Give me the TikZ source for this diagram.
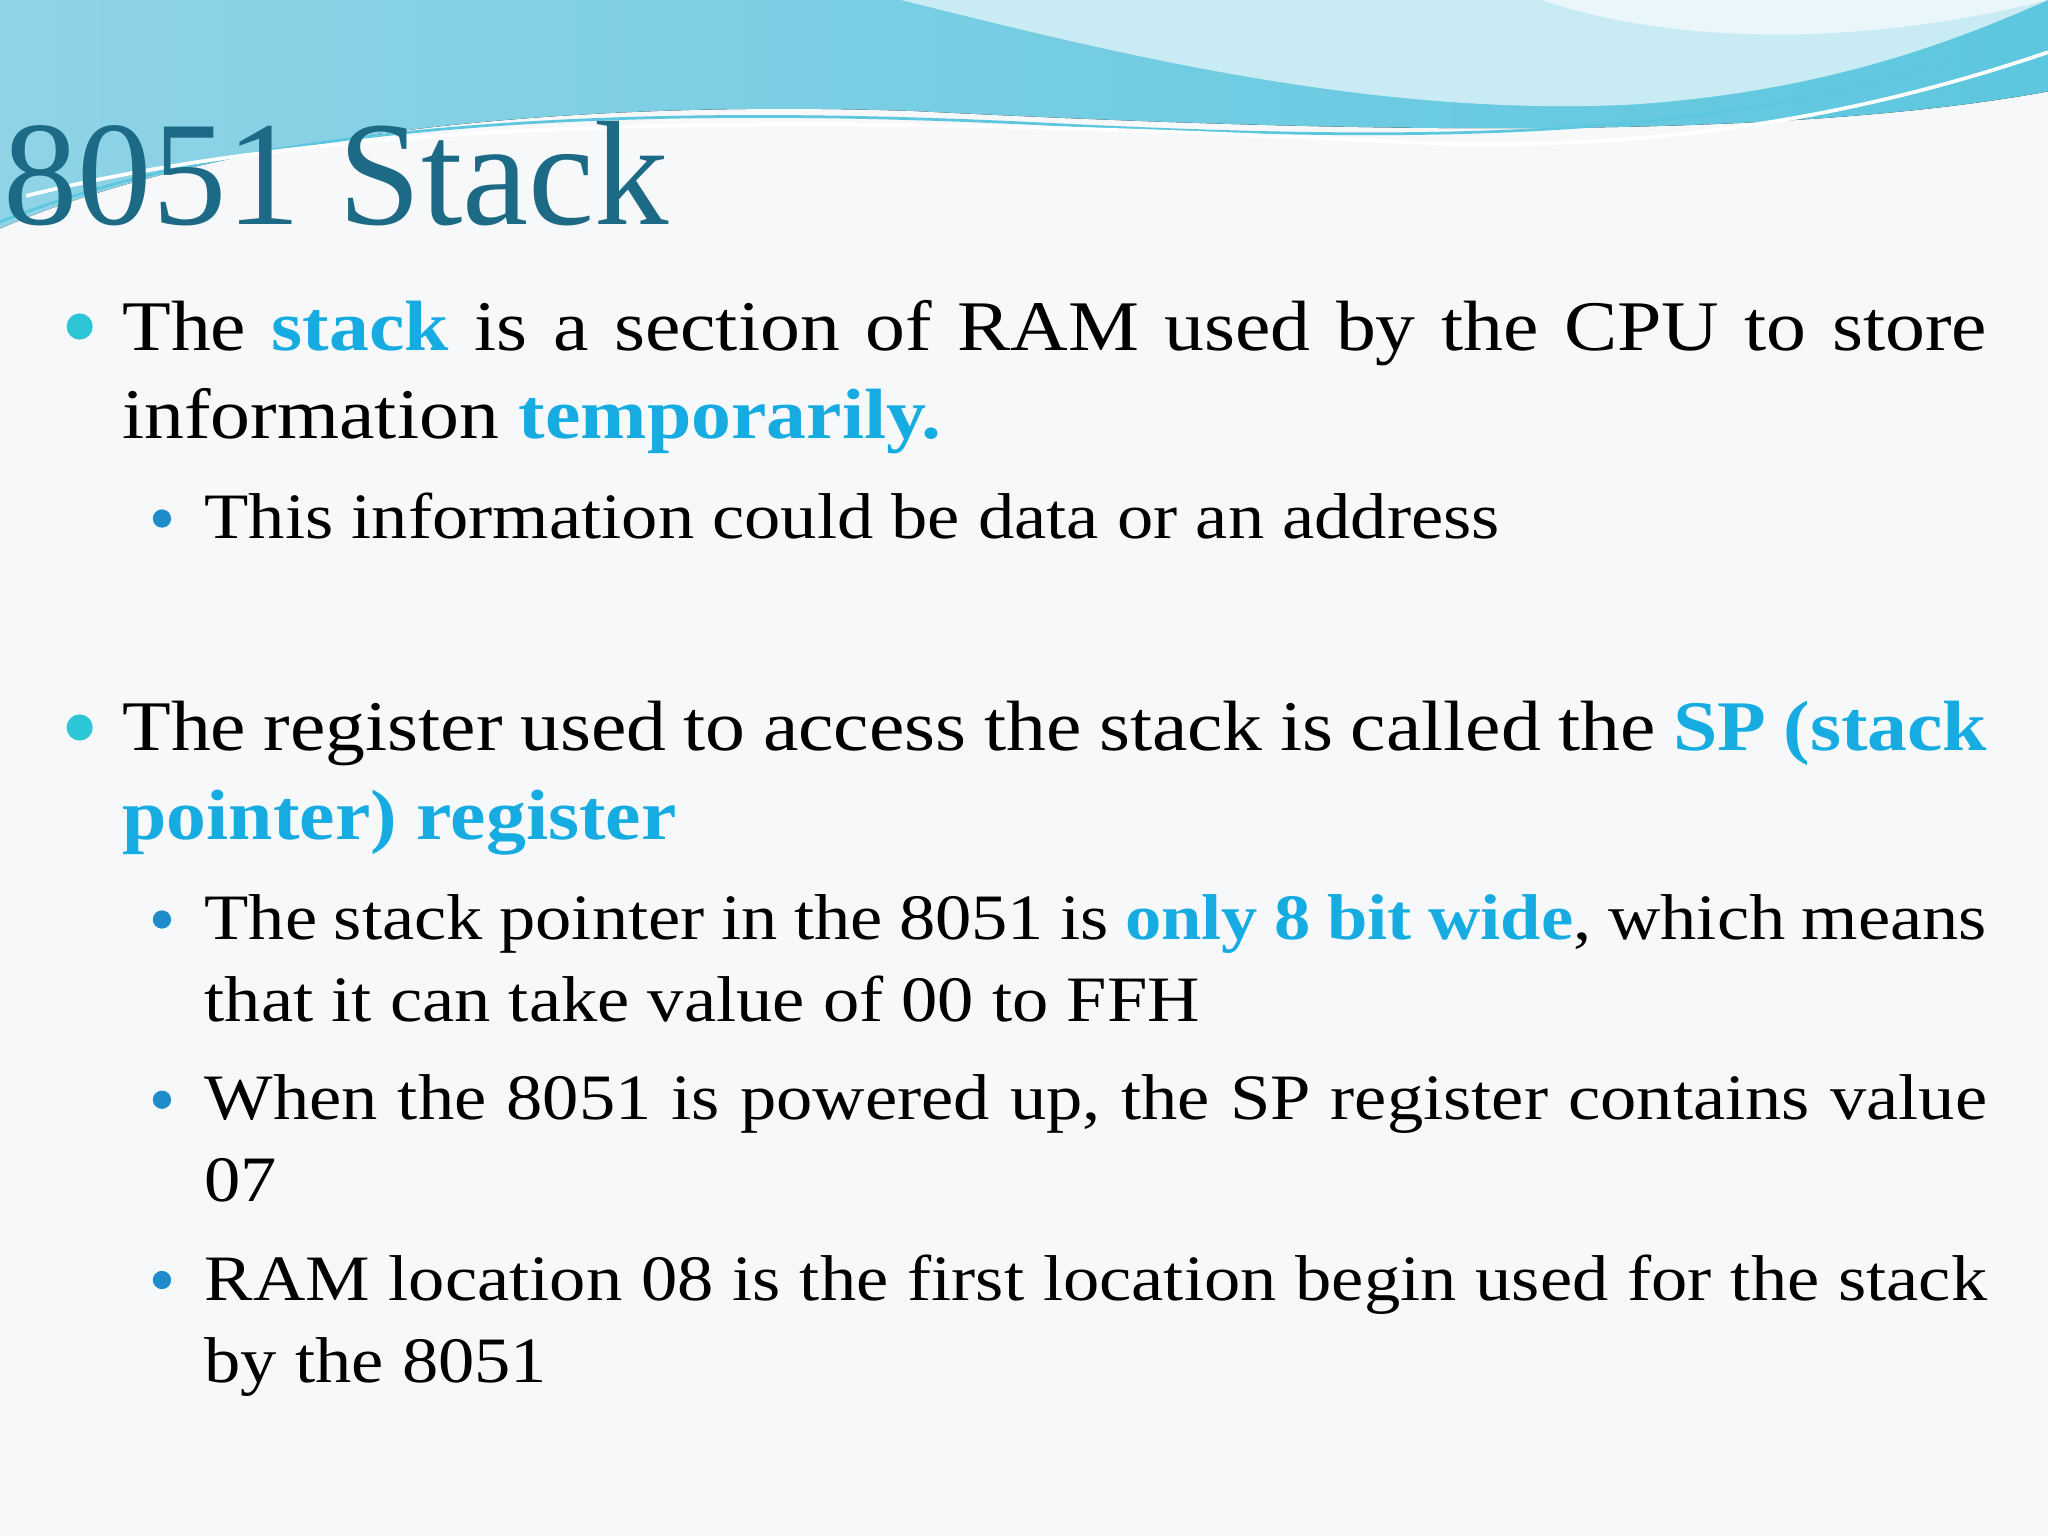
\documentclass[tikz,border=0pt]{standalone}
\usepackage{fontspec}
\setmainfont[FakeStretch=1.12]{Liberation Serif}
\newfontfamily\titlef{Liberation Serif}
\definecolor{bg}{HTML}{F7F8FA}
\definecolor{titlec}{HTML}{1C6A86}
\definecolor{hl}{HTML}{16ACE2}
\definecolor{bul}{HTML}{2CC6D6}
\definecolor{sbul}{HTML}{1E8CCB}
\definecolor{wave1}{HTML}{8FD3E6}
\definecolor{wave2}{HTML}{5CC7DF}
\definecolor{wave3}{HTML}{C9ECF4}
\newcommand{\hlt}[1]{\textcolor{hl}{\textbf{#1}}}
\tikzset{
 body/.style={anchor=north west,inner sep=0pt,text width=14.27cm,align=justify,font=\fontsize{15.5}{19.3}\selectfont},
 sub/.style={anchor=north west,inner sep=0pt,text width=13.64cm,align=justify,font=\fontsize{14.1}{17.9}\selectfont},
 dot/.style={circle,fill=bul,inner sep=0pt,minimum size=0.2cm},
 sdot/.style={circle,fill=sbul,inner sep=0pt,minimum size=0.14cm}
}
\begin{document}
\begin{tikzpicture}[x=0.01cm,y=-0.01cm]
\fill[bg] (0,0) rectangle (1568,1176);
\useasboundingbox (0,0) rectangle (1568,1176);
% header waves
\fill[left color=wave1,right color=wave2] (0,0) -- (1568,0) -- (1568,70) .. controls (1350,110) and (1000,100) .. (700,85) .. controls (400,75) and (150,110) .. (0,175) -- cycle;
\fill[wave3] (690,0) .. controls (850,40) and (1050,90) .. (1250,80) .. controls (1400,70) and (1500,30) .. (1568,0) -- cycle;
\fill[white,opacity=0.6] (1180,0) .. controls (1300,40) and (1450,30) .. (1568,0) -- cycle;
\draw[wave2,line width=0.6pt] (0,170) .. controls (200,90) and (500,80) .. (800,95) .. controls (1100,110) and (1350,110) .. (1568,20);
\draw[white,line width=0.8pt] (20,150) .. controls (300,80) and (700,90) .. (1100,110) .. controls (1300,115) and (1450,80) .. (1568,40);
% title
\node[anchor=base west,inner sep=0pt,text=titlec,font=\titlef\fontsize{32.4}{32.4}\selectfont] (title) at (2,172) {8051 Stack};
% bullets
\node[dot] (b1) at (61,250) {};
\node[body] (t1) at (93,229) {The \hlt{stack} is a section of RAM used by the CPU to store information \hlt{temporarily.}};
\node[sdot] (s1) at (124,397) {};
\node[sub] (u1) at (156,377) {This information could be data or an address};
\node[dot] (b2) at (61,557) {};
\node[body] (t2) at (93,536) {The register used to access the stack is called the \hlt{SP (stack pointer) register}};
\node[sdot] (s2) at (124,704) {};
\node[sub] (u2) at (156,684) {The stack pointer in the 8051 is \hlt{only 8 bit wide}, which means that it can take value of 00 to FFH};
\node[sdot] (s3) at (124,842) {};
\node[sub] (u3) at (156,822) {When the 8051 is powered up, the SP register contains value 07};
\node[sdot] (s4) at (124,980) {};
\node[sub] (u4) at (156,960) {RAM location 08 is the first location begin used for the stack by the 8051};
\end{tikzpicture}
\end{document}
